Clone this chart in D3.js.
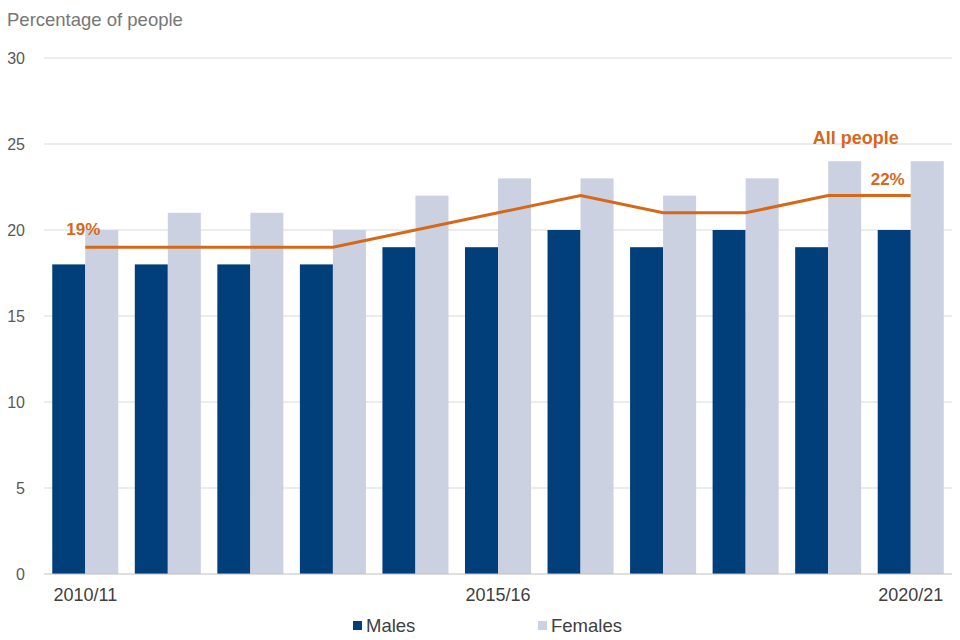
<!DOCTYPE html>
<html>
<head>
<meta charset="utf-8">
<script src="https://cdn.jsdelivr.net/npm/d3@7"></script>
<style>
  body { margin: 0; background: #fff; }
  text { font-family: "Liberation Sans", Arial, sans-serif; }
</style>
</head>
<body>
<svg id="chart" width="960" height="640"></svg>
<script>
// data
const years = ["2010/11", "2011/12", "2012/13", "2013/14", "2014/15", "2015/16",
               "2016/17", "2017/18", "2018/19", "2019/20", "2020/21"];
const males = [18, 18, 18, 18, 19, 19, 20, 19, 20, 19, 20];
const females = [20, 21, 21, 20, 22, 23, 23, 22, 23, 24, 24];
const allPeople = [19, 19, 19, 19, 20, 21, 22, 21, 21, 22, 22];
const shownYears = ["2010/11", "2015/16", "2020/21"];
const yTicks = [0, 5, 10, 15, 20, 25, 30];

const margin = { top: 58, right: 8, bottom: 66, left: 44 },
      width = 960 - margin.left - margin.right,
      height = 640 - margin.top - margin.bottom;

const svg = d3.select("#chart")
  .append("g")
  .attr("transform", `translate(${margin.left},${margin.top})`);

// scales
const x = d3.scaleBand()
  .domain(years)
  .range([0, width])
  .paddingInner(0.2)
  .paddingOuter(0.1);

const x1 = d3.scaleBand()
  .domain(["Males", "Females"])
  .range([0, x.bandwidth()]);

const y = d3.scaleLinear()
  .domain([0, 30])
  .range([height, 0]);

const colors = { Males: "#003f7a", Females: "#ccd1e1" };
const orange = "#d4691b";

// gridlines
svg.append("g")
  .selectAll("line")
  .data(yTicks.filter(d => d > 0))
  .enter().append("line")
  .attr("x1", 0).attr("x2", width)
  .attr("y1", d => y(d)).attr("y2", d => y(d))
  .attr("stroke", "#d9d9d9").attr("stroke-width", 1);

// y axis labels
const yAxis = svg.append("g")
  .attr("transform", "translate(-16,0)")
  .call(d3.axisLeft(y).tickValues(yTicks).tickSize(0));
yAxis.select(".domain").remove();
yAxis.selectAll("text")
  .attr("font-size", 16)
  .attr("fill", "#595959")
  .attr("font-family", "Liberation Sans, Arial, sans-serif");

// bars
const groups = svg.selectAll(".grp")
  .data(years)
  .enter().append("g")
  .attr("class", "grp")
  .attr("transform", d => `translate(${x(d)},0)`);

groups.append("rect")
  .attr("x", x1("Males"))
  .attr("y", (d, i) => y(males[i]))
  .attr("width", x1.bandwidth())
  .attr("height", (d, i) => height - y(males[i]))
  .attr("fill", colors.Males);

groups.append("rect")
  .attr("x", x1("Females"))
  .attr("y", (d, i) => y(females[i]))
  .attr("width", x1.bandwidth())
  .attr("height", (d, i) => height - y(females[i]))
  .attr("fill", colors.Females);

// baseline
svg.append("line")
  .attr("x1", 0).attr("x2", width)
  .attr("y1", height).attr("y2", height)
  .attr("stroke", "#bfbfbf").attr("stroke-width", 1);

// x axis labels
const xAxis = svg.append("g")
  .attr("transform", `translate(0,${height + 11})`)
  .call(d3.axisBottom(x).tickValues(shownYears).tickSize(0));
xAxis.select(".domain").remove();
xAxis.selectAll("text")
  .attr("font-size", 18)
  .attr("fill", "#404040")
  .attr("font-family", "Liberation Sans, Arial, sans-serif");

// all people line
const line = d3.line()
  .x((d, i) => x(years[i]) + x.bandwidth() / 2)
  .y(d => y(d));

svg.append("path")
  .datum(allPeople)
  .attr("d", line)
  .attr("fill", "none")
  .attr("stroke", orange)
  .attr("stroke-width", 3);

// line labels
const last = allPeople.length - 1;
svg.append("text")
  .attr("x", x(years[0]) + x.bandwidth() / 2 - 2)
  .attr("y", y(allPeople[0]) - 12)
  .attr("text-anchor", "middle")
  .attr("font-size", 17).attr("font-weight", "bold")
  .attr("fill", orange)
  .text(allPeople[0] + "%");

svg.append("text")
  .attr("x", x(years[last]) + x.bandwidth() / 2 - 23)
  .attr("y", y(allPeople[last]) - 11)
  .attr("text-anchor", "middle")
  .attr("font-size", 17).attr("font-weight", "bold")
  .attr("fill", orange)
  .text(allPeople[last] + "%");

svg.append("text")
  .attr("x", x(years[last]) + x.bandwidth() / 2 - 55)
  .attr("y", y(allPeople[last]) - 52)
  .attr("text-anchor", "middle")
  .attr("font-size", 18).attr("font-weight", "bold")
  .attr("fill", orange)
  .text("All people");

// title
d3.select("#chart").append("text")
  .attr("x", 7).attr("y", 26)
  .attr("font-size", 18.5)
  .attr("fill", "#767676")
  .text("Percentage of people");

// legend
const legend = d3.select("#chart").append("g");
const legendItems = [["Males", 353], ["Females", 538]];
legendItems.forEach(([name, lx]) => {
  legend.append("rect")
    .attr("x", lx).attr("y", 621)
    .attr("width", 9).attr("height", 9)
    .attr("fill", colors[name]);
  legend.append("text")
    .attr("x", lx + 13).attr("y", 632)
    .attr("font-size", 18.5)
    .attr("fill", "#404040")
    .text(name);
});
</script>
</body>
</html>
